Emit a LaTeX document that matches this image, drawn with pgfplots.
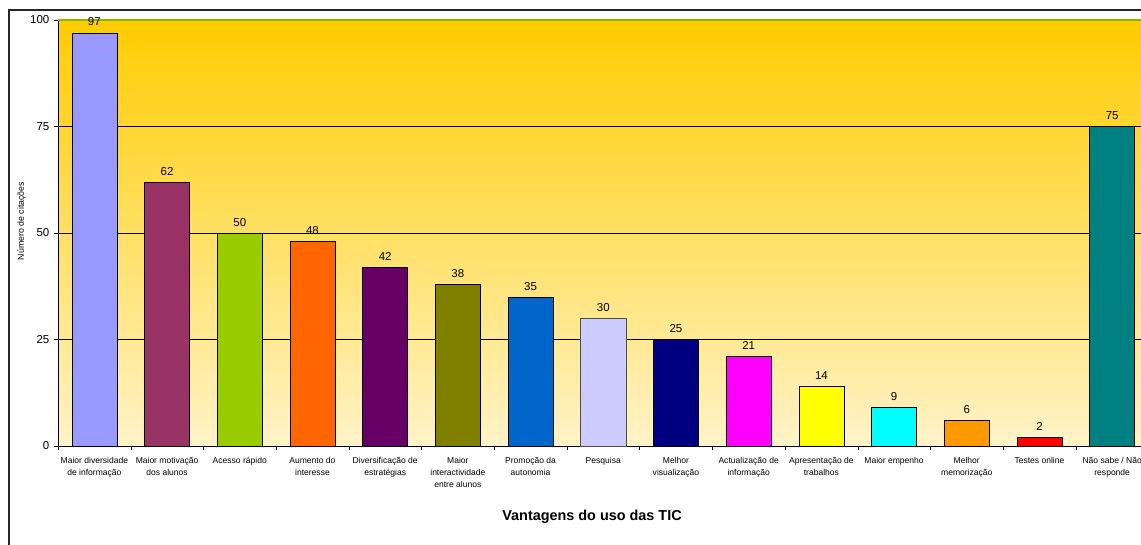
\documentclass[border=0pt]{standalone}
\usepackage{fontspec}
\setmainfont{Liberation Sans}
\usepackage{pgfplots}
\pgfplotsset{compat=1.18}
\definecolor{bgtop}{HTML}{FFCC00}
\definecolor{bgbot}{HTML}{FFF3C8}
\definecolor{topline}{HTML}{8DB600}
\definecolor{c1}{HTML}{9999FF}
\definecolor{c2}{HTML}{993366}
\definecolor{c3}{HTML}{99CC00}
\definecolor{c4}{HTML}{FF6600}
\definecolor{c5}{HTML}{660066}
\definecolor{c6}{HTML}{808000}
\definecolor{c7}{HTML}{0066CC}
\definecolor{c8}{HTML}{CCCCFF}
\definecolor{c9}{HTML}{000080}
\definecolor{c10}{HTML}{FF00FF}
\definecolor{c11}{HTML}{FFFF00}
\definecolor{c12}{HTML}{00FFFF}
\definecolor{c13}{HTML}{FF9900}
\definecolor{c14}{HTML}{FF0000}
\definecolor{c15}{HTML}{008080}

\begin{document}
\begin{tikzpicture}[x=0.75pt,y=0.75pt]
% chart frame (right and bottom edges fall outside the page, as in the original)
\draw[line width=1.4pt, black!85] (9,-20) rectangle (1200,534);
\begin{axis}[
    at={(43.5pt,73.5pt)}, anchor=south west,
    scale only axis, width=817.9pt, height=319.5pt,
    xmin=0.5, xmax=15.5, ymin=0, ymax=100,
    ybar, bar width=0.62,
    axis background/.style={top color=bgtop, bottom color=bgbot},
    axis x line=bottom, axis y line=left, axis line style={-, black},
    ytick={0,25,50,75,100},
    ymajorgrids, grid style={black, line width=0.5pt},
    ytick style={black}, tick align=outside, major tick length=3pt,
    /pgf/number format/assume math mode=true,
    yticklabel style={font=\fontsize{8.6}{9}\selectfont},
    xtick={1,...,15},
    xtick style={draw=none},
    xticklabels={Maior diversidade\\de informação, Maior motivação\\dos alunos,
        Acesso rápido, Aumento do\\interesse, Diversificação de\\estratégias,
        Maior\\interactividade\\entre alunos, Promoção da\\autonomia, Pesquisa,
        Melhor\\visualização, Actualização de\\informação, Apresentação de\\trabalhos,
        Maior empenho, Melhor\\memorização, Testes online, Não sabe / Não\\responde},
    xticklabel style={font=\fontsize{6.4}{9}\selectfont, align=center, anchor=north, yshift=-2pt},
    extra x ticks={0.5,1.5,...,15.5},
    extra x tick labels={},
    extra x tick style={xtick style={draw=black}, major tick length=3pt},
    ylabel={Número de citações},
    ylabel style={at={(axis description cs:-0.0335,0.528)}, anchor=center, rotate=0,
        font=\fontsize{6.6}{8}\selectfont},
    xlabel={Vantagens do uso das TIC},
    xlabel style={at={(axis description cs:0.4897,-0.1667)}, anchor=center,
        font=\fontsize{10.8}{12}\selectfont\bfseries},
    nodes near coords,
    every node near coord/.append style={font=\fontsize{8.6}{9}\selectfont, black, yshift=1.5pt},
    clip=false,
]
\addplot[fill=c1,  draw=black, bar shift=0] coordinates {(1,97)};
\addplot[fill=c2,  draw=black, bar shift=0] coordinates {(2,62)};
\addplot[fill=c3,  draw=black, bar shift=0] coordinates {(3,50)};
\addplot[fill=c4,  draw=black, bar shift=0] coordinates {(4,48)};
\addplot[fill=c5,  draw=black, bar shift=0] coordinates {(5,42)};
\addplot[fill=c6,  draw=black, bar shift=0] coordinates {(6,38)};
\addplot[fill=c7,  draw=black, bar shift=0] coordinates {(7,35)};
\addplot[fill=c8,  draw=black!70, bar shift=0] coordinates {(8,30)};
\addplot[fill=c9,  draw=black, bar shift=0] coordinates {(9,25)};
\addplot[fill=c10, draw=black, bar shift=0] coordinates {(10,21)};
\addplot[fill=c11, draw=black, bar shift=0] coordinates {(11,14)};
\addplot[fill=c12, draw=black, bar shift=0] coordinates {(12,9)};
\addplot[fill=c13, draw=black, bar shift=0] coordinates {(13,6)};
\addplot[fill=c14, draw=black, bar shift=0] coordinates {(14,2)};
\addplot[fill=c15, draw=black, bar shift=0] coordinates {(15,75)};
\draw[topline, line width=0.8pt] (axis cs:0.5,100) -- (axis cs:15.5,100);
\end{axis}
\pgfresetboundingbox
\path[use as bounding box] (0,0) rectangle (1141,544);
\end{tikzpicture}
\end{document}
